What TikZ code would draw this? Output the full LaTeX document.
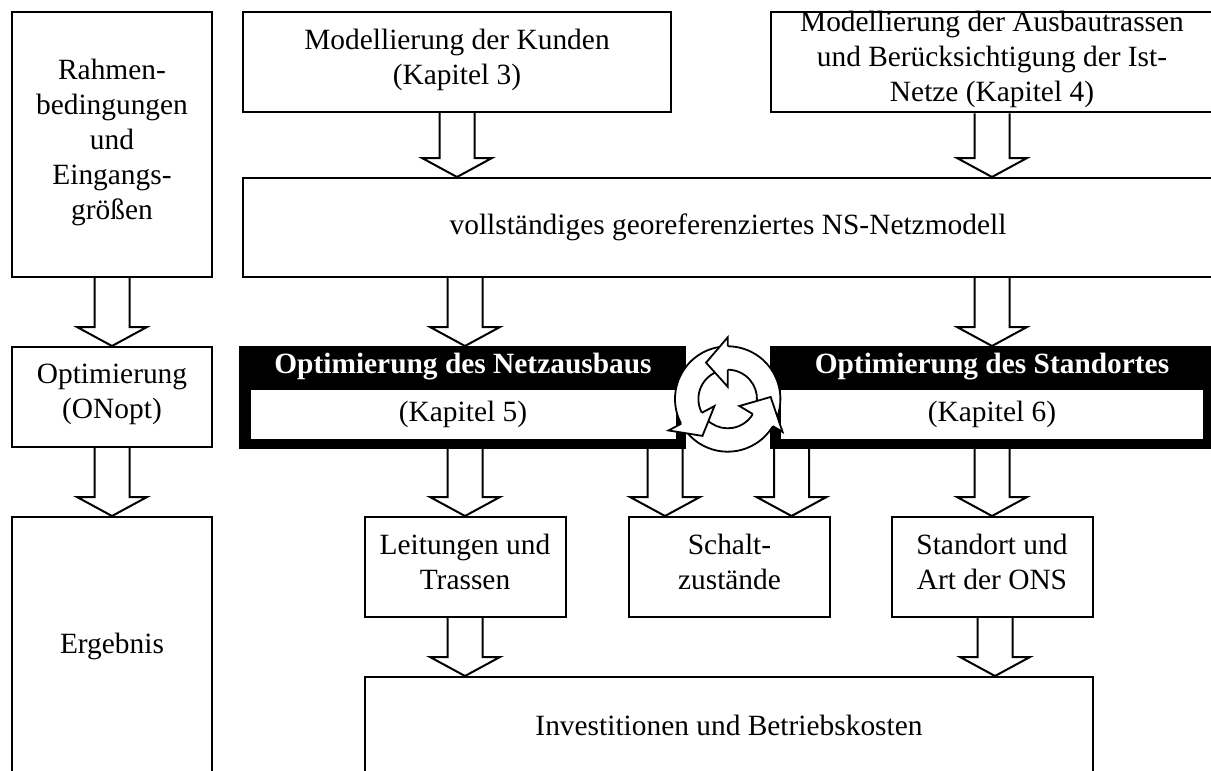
\documentclass[tikz,border=0pt]{standalone}
\usepackage{fontspec}
\setmainfont{Liberation Serif}
\usetikzlibrary{shapes}
\newcommand{\BlockArrow}[3]{\draw[arrowStyle] (#3-17.5,0 |- #1.south) -- ([yshift=19pt]#3-17.5,0 |- #2.north) -- ([yshift=19pt]#3-35,0 |- #2.north) -- (#3,0 |- #2.north) -- ([yshift=19pt]#3+35,0 |- #2.north) -- ([yshift=19pt]#3+17.5,0 |- #2.north) -- (#3+17.5,0 |- #1.south);}
\begin{document}
\begin{tikzpicture}[x = 1pt, y = -1pt, font = \fontsize{29.4}{35}\selectfont]
\tikzstyle{strutStyle}=[execute at begin node = \strut, execute at end node = \strut, inner sep = 0pt]
\tikzstyle{boxStyle}=[strutStyle, shape = rectangle, draw, line width = 2pt, fill = white, align = center]
\tikzstyle{blackStyle}=[shape = rectangle, draw, line width = 2pt, fill = black, inner sep = 0pt]
\tikzstyle{innerStyle}=[strutStyle, shape = rectangle, fill = white, align = center]
\tikzstyle{titleStyle}=[strutStyle, text = white, font = \fontsize{29.4}{35}\selectfont\bfseries]
\tikzstyle{arrowStyle}=[line width = 2pt, fill = white, line join = miter]
\clip (0,0) rectangle (1211,771);
% left column
\node[boxStyle, minimum width = 200, minimum height = 265] (rahmen) at (112,144.5) {Rahmen-\\bedingungen\\und\\Eingangs-\\größen};
\node[boxStyle, minimum width = 200, minimum height = 100] (onopt) at (112,397) {Optimierung\\(ONopt)};
\node[boxStyle, minimum width = 200, minimum height = 258] (ergebnis) at (112,646) {Ergebnis};
% input models
\node[boxStyle, minimum width = 428, minimum height = 100] (kunden) at (457,62) {Modellierung der Kunden\\(Kapitel 3)};
\node[boxStyle, minimum width = 442, minimum height = 100] (trassen) at (992,62) {Modellierung der Ausbautrassen\\und Berücksichtigung der Ist-\\Netze (Kapitel 4)};
\node[boxStyle, minimum width = 970, minimum height = 99] (netzmodell) at (728,227.5) {vollständiges georeferenziertes NS-Netzmodell};
% optimisation blocks
\node[blackStyle, minimum width = 445, minimum height = 101] (ausbau) at (462.5,397.5) {};
\node[blackStyle, minimum width = 442, minimum height = 101] (standort) at (992,397.5) {};
\node[titleStyle] (ausbauTitle) at (463,366.5) {Optimierung des Netzausbaus};
\node[titleStyle] (standortTitle) at (992,366.5) {Optimierung des Standortes};
\node[innerStyle, minimum width = 425, minimum height = 49] (ausbauInner) at (463,414.5) {(Kapitel 5)};
\node[innerStyle, minimum width = 422, minimum height = 49] (standortInner) at (992,414.5) {(Kapitel 6)};
% results
\node[boxStyle, minimum width = 201, minimum height = 100] (leitungen) at (465,567) {Leitungen und\\Trassen};
\node[boxStyle, minimum width = 201, minimum height = 100] (schalt) at (729.5,567) {Schalt-\\zustände};
\node[boxStyle, minimum width = 201, minimum height = 100] (ons) at (992,567) {Standort und\\Art der ONS};
\node[boxStyle, minimum width = 728, minimum height = 102] (kosten) at (729,728) {Investitionen und Betriebskosten};
% block arrows
\BlockArrow{rahmen}{onopt}{112}
\BlockArrow{onopt}{ergebnis}{112}
\BlockArrow{kunden}{netzmodell}{457}
\BlockArrow{trassen}{netzmodell}{992}
\BlockArrow{netzmodell}{ausbau}{465}
\BlockArrow{netzmodell}{standort}{992}
\BlockArrow{ausbau}{leitungen}{465}
\BlockArrow{ausbau}{schalt}{665}
\BlockArrow{standort}{schalt}{791.5}
\BlockArrow{standort}{ons}{992}
\BlockArrow{leitungen}{kosten}{465}
\BlockArrow{ons}{kosten}{995}
% cycle symbol
\begin{scope}[shift = {(727.7,399)}, y = 1pt, line width = 1.8pt]
\fill[white] (0,0) circle (52.7);
\foreach \b/\s in {90/-26, 208/95, 329/213}{
\draw (\s:52.7) arc (\s:\b:52.7);
\draw (\s:29.3) arc (\s:\b:29.3);
}
\foreach \b/\o/\i/\t/\r in {90/61.7/12.3/120.8/42.3, 208/67/15/235.6/44.7, 329/64/13.6/362.7/43}{
\path[fill = white, draw = black, line join = miter] (\b:52.7) -- (\b:\o) -- (\t:\r) -- (\b:\i) -- (\b:29.3);
}
\end{scope}
\end{tikzpicture}
\end{document}
